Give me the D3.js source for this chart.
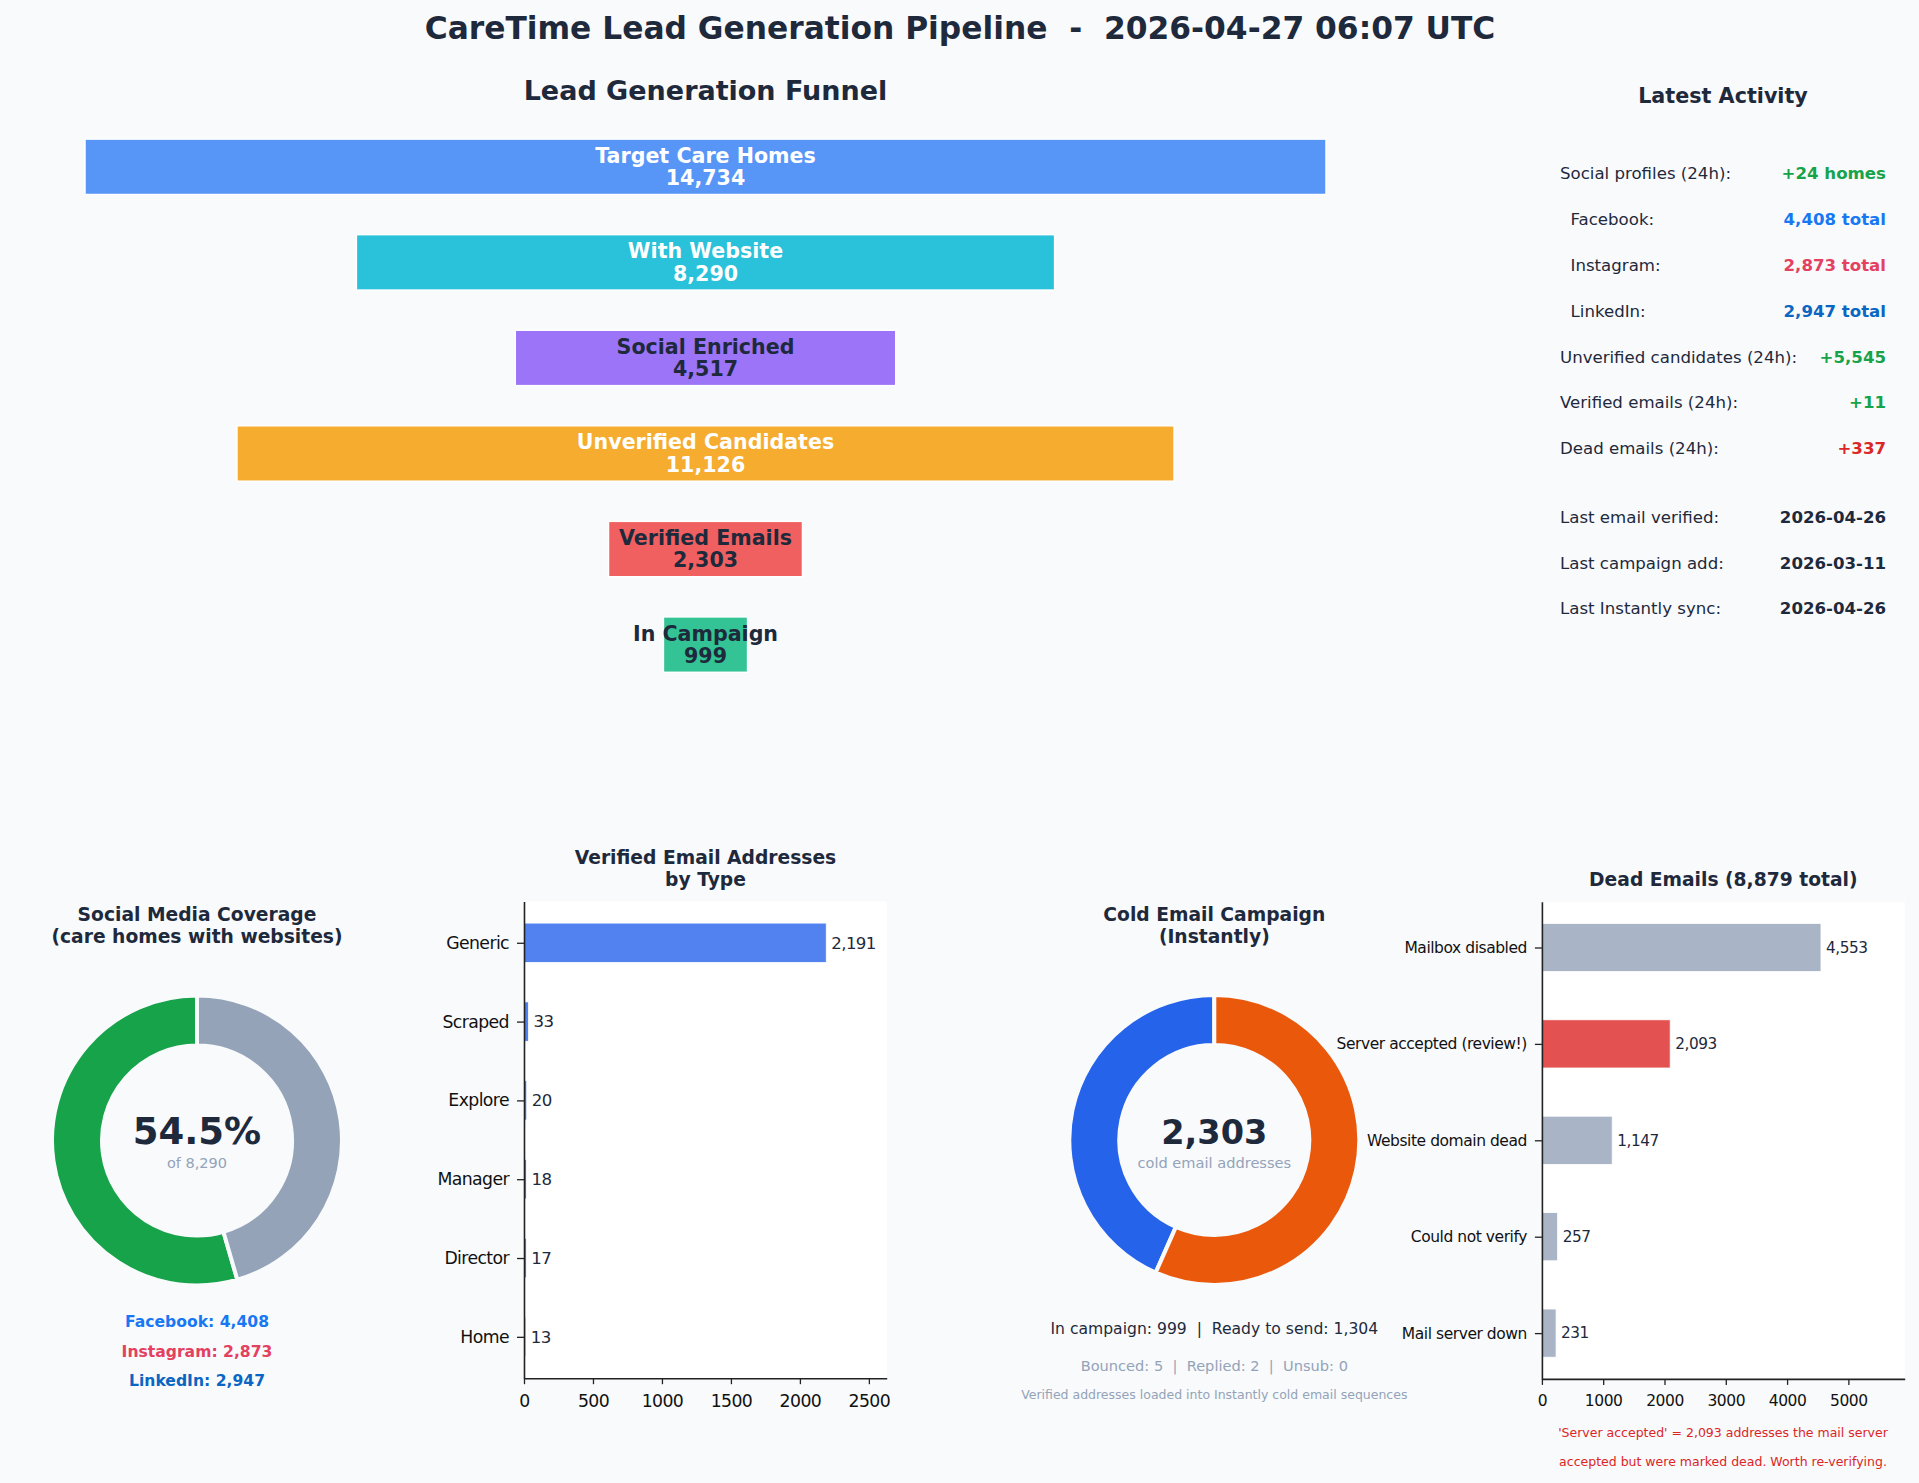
<!DOCTYPE html>
<html>
<head>
<meta charset="utf-8">
<script src="https://cdn.jsdelivr.net/npm/d3@7"></script>
<style>
	body { margin: 0; background: #f8fafc; }
	svg text { font-family: 'DejaVu Sans', sans-serif; white-space: pre; }
</style>
</head>
<body>
<div id="chart"></div>
<script>
// ---- data ----
var pipelineTitle = 'CareTime Lead Generation Pipeline  -  2026-04-27 06:07 UTC';

var funnelStages = ['Target Care Homes', 'With Website', 'Social Enriched', 'Unverified Candidates', 'Verified Emails', 'In Campaign'];
var funnelValues = [14734, 8290, 4517, 11126, 2303, 999];

var activityLabels = ['Social profiles (24h):', '  Facebook:', '  Instagram:', '  LinkedIn:', 'Unverified candidates (24h):',
	'Verified emails (24h):', 'Dead emails (24h):', 'Last email verified:', 'Last campaign add:', 'Last Instantly sync:'];
var activityValues = ['+24 homes', '4,408 total', '2,873 total', '2,947 total', '+5,545', '+11', '+337', '2026-04-26', '2026-03-11', '2026-04-26'];

var socialParts = ['With social', 'Without social'];
var socialValues = [4517, 3773];
var websiteTotal = 8290;
var socialNetworks = ['Facebook', 'Instagram', 'LinkedIn'];
var socialCounts = [4408, 2873, 2947];

var emailTypes = ['Generic', 'Scraped', 'Explore', 'Manager', 'Director', 'Home'];
var emailTypeCounts = [2191, 33, 20, 18, 17, 13];
var emailTicks = [0, 500, 1000, 1500, 2000, 2500];

var campaignParts = ['In campaign', 'Ready to send'];
var campaignValues = [999, 1304];
var campaignStats = ['Bounced', 'Replied', 'Unsub'];
var campaignStatValues = [5, 2, 0];

var deadReasons = ['Mailbox disabled', 'Server accepted (review!)', 'Website domain dead', 'Could not verify', 'Mail server down'];
var deadCounts = [4553, 2093, 1147, 257, 231];
var deadTotal = 8879;
var deadTicks = [0, 1000, 2000, 3000, 4000, 5000];

// ---- styles ----
var DARK = '#1e293b', MUTED = '#94a3b8', GREEN = '#16a34a', RED = '#dc2626';
var funnelColors = ['#3b82f6', '#06b6d4', '#8b5cf6', '#f59e0b', '#ef4444', '#10b981'];
var funnelTextColors = ['white', 'white', DARK, 'white', DARK, DARK];
var activityColors = [GREEN, '#1877f2', '#e4405f', '#0a66c2', GREEN, GREEN, RED, DARK, DARK, DARK];
var networkColors = ['#1877f2', '#e4405f', '#0a66c2'];

var fmt = d3.format(',');
var W = 1919, H = 1483;

var svg = d3.select('#chart').append('svg')
	.attr('width', W)
	.attr('height', H);
svg.append('rect').attr('width', W).attr('height', H).attr('fill', '#f8fafc');

function label(g, x, y, str, size, opts){
	opts = opts || {};
	return g.append('text')
		.attr('x', x)
		.attr('y', y)
		.attr('dy', '0.35em')
		.attr('text-anchor', opts.anchor || 'middle')
		.attr('font-size', size)
		.attr('font-weight', opts.bold ? 'bold' : 'normal')
		.attr('fill', opts.fill || DARK)
		.text(str);
}

label(svg, 960, 28, pipelineTitle, 31.3, {bold: true});

// ---- funnel ----
var funnel = svg.append('g');
label(funnel, 705.5, 90.6, 'Lead Generation Funnel', 27, {bold: true});

var fx = d3.scaleLinear().domain([-7367, 7367]).range([85, 1326]);
var fy = d3.scaleLinear().domain([0, funnelStages.length - 1]).range([166.8, 644.6]);
var fStep = fy(1) - fy(0);

funnel.selectAll('rect.stage')
	.data(funnelValues)
	.enter().append('rect')
	.attr('class', 'stage')
	.attr('x', function(d){ return fx(-d / 2); })
	.attr('width', function(d){ return fx(d / 2) - fx(-d / 2); })
	.attr('y', function(d, i){ return fy(i) - fStep * 0.29; })
	.attr('height', fStep * 0.58)
	.attr('fill', function(d, i){ return funnelColors[i]; })
	.attr('fill-opacity', 0.85)
	.attr('stroke', 'white')
	.attr('stroke-width', 1.5);

funnelStages.forEach(function(s, i){
	label(funnel, fx(0), fy(i) - 11.2, s, 20.6, {bold: true, fill: funnelTextColors[i]});
	label(funnel, fx(0), fy(i) + 11.2, fmt(funnelValues[i]), 20.6, {bold: true, fill: funnelTextColors[i]});
});

// ---- latest activity ----
var act = svg.append('g');
label(act, 1723, 95.9, 'Latest Activity', 20.7, {bold: true});
var ay = d3.scaleLinear().domain([0, 9.5]).range([173.6, 608.6]);
activityLabels.forEach(function(l, i){
	var slot = i >= 7 ? i + 0.5 : i;
	label(act, 1560, ay(slot), l, 16.6, {anchor: 'start'});
	label(act, 1886, ay(slot), activityValues[i], 16.6, {anchor: 'end', bold: true, fill: activityColors[i]});
});

// ---- donut helper ----
function donut(cx, cy, values, colors){
	var pie = d3.pie().sort(null).startAngle(0).endAngle(-2 * Math.PI);
	var arc = d3.arc().innerRadius(95).outerRadius(145);
	var g = svg.append('g').attr('transform', 'translate(' + cx + ',' + cy + ')');
	g.selectAll('path')
		.data(pie(values))
		.enter().append('path')
		.attr('d', arc)
		.attr('fill', function(d, i){ return colors[i]; })
		.attr('stroke', '#f8fafc')
		.attr('stroke-width', 4);
	return g;
}

// social coverage
label(svg, 197, 914.3, 'Social Media Coverage', 18.7, {bold: true});
label(svg, 197, 936.4, '(care homes with websites)', 18.7, {bold: true});
donut(197, 1140.5, socialValues, [GREEN, '#94a3b8']);
label(svg, 197, 1131, (socialValues[0] / websiteTotal * 100).toFixed(1) + '%', 37, {bold: true});
label(svg, 197, 1162.5, 'of ' + fmt(websiteTotal), 14.5, {fill: MUTED});
socialNetworks.forEach(function(n, i){
	label(svg, 197, 1322 + i * 29.2, n + ': ' + fmt(socialCounts[i]), 15.6, {bold: true, fill: networkColors[i]});
});

// cold email campaign
var campaignTotal = d3.sum(campaignValues);
label(svg, 1214.3, 914.4, 'Cold Email Campaign', 18.7, {bold: true});
label(svg, 1214.3, 936.1, '(Instantly)', 18.7, {bold: true});
donut(1214.3, 1140, campaignValues, ['#2563eb', '#ea580c']);
label(svg, 1214.3, 1132.4, fmt(campaignTotal), 33.5, {bold: true});
label(svg, 1214.3, 1162.4, 'cold email addresses', 14.6, {fill: MUTED});
label(svg, 1214.3, 1328.3, campaignParts.map(function(p, i){ return p + ': ' + fmt(campaignValues[i]); }).join('  |  '), 15.6);
label(svg, 1214.3, 1365.5, campaignStats.map(function(p, i){ return p + ': ' + campaignStatValues[i]; }).join('  |  '), 14.6, {fill: MUTED});
label(svg, 1214.3, 1394.5, 'Verified addresses loaded into Instantly cold email sequences', 12.5, {fill: MUTED});

// ---- horizontal bar helper ----
function hbar(opts){
	var g = svg.append('g');
	var n = opts.cats.length;
	var margin = 0.25 + 0.05 * (n - 0.5);
	var x = d3.scaleLinear().domain([0, d3.max(opts.values) * opts.pad]).range([opts.left, opts.right]);
	var y = d3.scaleLinear().domain([-margin, n - 1 + margin]).range([opts.top, opts.bottom]);

	g.append('rect')
		.attr('x', opts.left).attr('y', opts.top)
		.attr('width', opts.right - opts.left).attr('height', opts.bottom - opts.top)
		.attr('fill', 'white');

	label(g, opts.titleX, opts.titleY[0], opts.title[0], 18.7, {bold: true});
	if(opts.title[1]) label(g, opts.titleX, opts.titleY[1], opts.title[1], 18.7, {bold: true});

	var band = y(0.5) - y(0);
	g.selectAll('rect.bar')
		.data(opts.values)
		.enter().append('rect')
		.attr('class', 'bar')
		.attr('x', x(0))
		.attr('y', function(d, i){ return y(i) - band / 2; })
		.attr('width', function(d){ return x(d) - x(0); })
		.attr('height', band)
		.attr('fill', function(d, i){ return opts.colors(i); })
		.attr('fill-opacity', 0.8)
		.attr('stroke', 'white')
		.attr('stroke-width', 0.8);

	g.selectAll('text.val')
		.data(opts.values)
		.enter().append('text')
		.attr('class', 'val')
		.attr('x', function(d){ return x(d) + 5; })
		.attr('y', function(d, i){ return y(i); })
		.attr('dy', '0.35em')
		.attr('font-size', opts.valSize)
		.attr('letter-spacing', opts.tight)
		.attr('fill', DARK)
		.text(function(d){ return fmt(d); });

	var xAxis = g.append('g')
		.attr('transform', 'translate(0,' + opts.bottom + ')')
		.call(d3.axisBottom(x).tickValues(opts.ticks).tickFormat(d3.format('d')).tickSize(6).tickSizeOuter(0).tickPadding(opts.xPad));
	var yAxis = g.append('g')
		.attr('transform', 'translate(' + opts.left + ',0)')
		.call(d3.axisLeft(y).tickValues(d3.range(n)).tickFormat(function(i){ return opts.cats[i]; })
			.tickSize(7).tickSizeOuter(0).tickPadding(8));

	[xAxis, yAxis].forEach(function(a){
		a.attr('font-size', null);
		a.select('.domain').attr('stroke', '#222').attr('stroke-width', 1.6);
		a.selectAll('.tick line').attr('stroke', '#222').attr('stroke-width', 1.3);
		a.selectAll('.tick text')
			.attr('fill', '#111')
			.attr('font-family', 'DejaVu Sans')
			.attr('font-size', opts.tickSize)
			.attr('letter-spacing', opts.tight);
	});
	return g;
}

hbar({
	cats: emailTypes, values: emailTypeCounts, ticks: emailTicks, pad: 1.2,
	left: 524, right: 886.7, top: 901.4, bottom: 1378.2,
	title: ['Verified Email Addresses', 'by Type'], titleX: 705.5, titleY: [857.5, 879.3],
	colors: function(){ return '#2563eb'; },
	valSize: 16.6, tickSize: 17.3, tight: -0.6, xPad: 11
});

var dead = hbar({
	cats: deadReasons, values: deadCounts, ticks: deadTicks, pad: 1.3,
	left: 1541.9, right: 1904.7, top: 901.7, bottom: 1378.9,
	title: ['Dead Emails (' + fmt(deadTotal) + ' total)'], titleX: 1723.3, titleY: [879.5],
	colors: function(i){ return i === 1 ? RED : '#94a3b8'; },
	valSize: 15.3, tickSize: 15.5, tight: -0.45, xPad: 10
});

label(dead, 1723, 1432.7, "'Server accepted' = " + fmt(deadCounts[1]) + ' addresses the mail server', 12.5, {fill: RED});
label(dead, 1723, 1461.7, 'accepted but were marked dead. Worth re-verifying.', 12.5, {fill: RED});
</script>
</body>
</html>
